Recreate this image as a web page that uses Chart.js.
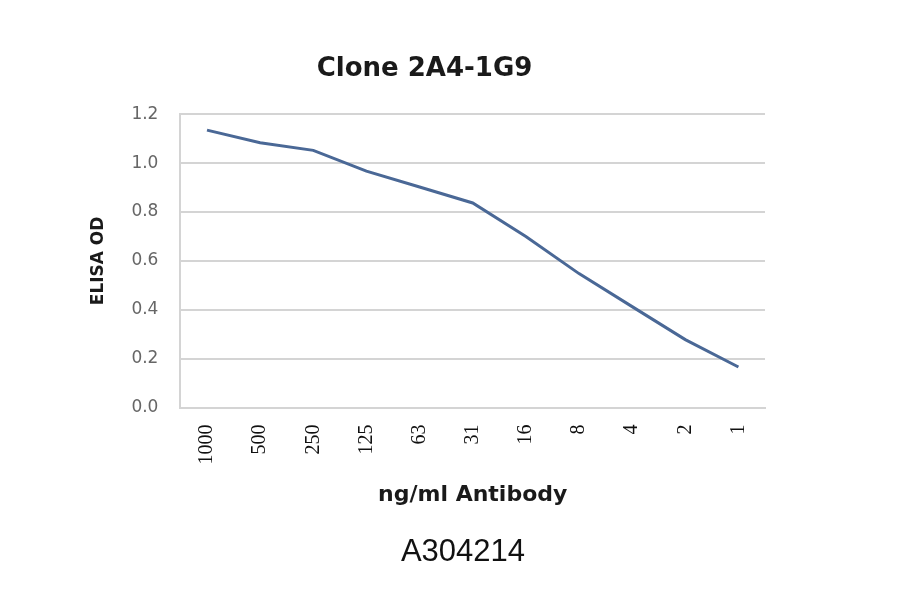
<!DOCTYPE html>
<html>
<head>
<meta charset="utf-8">
<script src="https://cdn.jsdelivr.net/npm/chart.js@4.4.1/dist/chart.umd.min.js"></script>
<style>
  html, body { margin: 0; padding: 0; background: #fff; }
  #wrap { position: relative; width: 900px; height: 594px; }
  #footer {
    position: absolute; left: 0; width: 926px; top: 533px;
    text-align: center; font-family: "Liberation Sans", sans-serif;
    font-size: 31px; color: #111;
  }
</style>
</head>
<body>
<div id="wrap">
  <canvas id="elisaChart" width="900" height="594"></canvas>
  <div id="footer">A304214</div>
</div>
<script>
// antibody dilution series (ng/ml) and measured OD
const concentrations = ['1000', '500', '250', '125', '63', '31', '16', '8', '4', '2', '1'];
const odValues = [1.135, 1.083, 1.052, 0.967, 0.902, 0.837, 0.7, 0.548, 0.413, 0.278, 0.166];
const yTicks = [0, 0.2, 0.4, 0.6, 0.8, 1.0, 1.2];

document.addEventListener("DOMContentLoaded", function () {
    const ctx = document.getElementById("elisaChart").getContext("2d");
    new Chart(ctx, {
        type: 'line',
        data: {
            labels: concentrations,
            datasets: [{
                label: 'Clone 2A4-1G9',
                data: odValues,
                borderColor: '#4a6896',
                borderWidth: 3,
                pointRadius: 0,
                tension: 0,
                fill: false
            }]
        },
        options: {
            responsive: false,
            animation: false,
            layout: { padding: { left: 84, right: 135, top: 54, bottom: 86 } },
            plugins: {
                legend: { display: false },
                tooltip: { enabled: false },
                title: {
                    display: true,
                    text: 'Clone 2A4-1G9',
                    color: '#1a1a1a',
                    font: { family: 'DejaVu Sans', size: 26, weight: 'bold' },
                    padding: { top: 0, bottom: 29 }
                }
            },
            scales: {
                x: {
                    offset: true,
                    grid: { display: false },
                    border: { color: '#d4d4d4', width: 2 },
                    ticks: {
                        color: '#111',
                        font: { family: 'Liberation Serif', size: 20 },
                        maxRotation: 90,
                        minRotation: 90,
                        padding: 9
                    },
                    title: {
                        display: true,
                        text: 'ng/ml Antibody',
                        color: '#1a1a1a',
                        font: { family: 'DejaVu Sans', size: 22, weight: 'bold' },
                        padding: { top: 8, bottom: 0 }
                    }
                },
                y: {
                    min: 0,
                    max: 1.2,
                    afterBuildTicks: function (axis) {
                        axis.ticks = yTicks.map(v => ({ value: v }));
                    },
                    grid: { color: '#d4d4d4', lineWidth: 2, drawTicks: false },
                    border: { color: '#d4d4d4', width: 2 },
                    ticks: {
                        color: '#666',
                        font: { family: 'DejaVu Sans', size: 17 },
                        padding: 22,
                        callback: v => v.toFixed(1)
                    },
                    title: {
                        display: true,
                        text: 'ELISA OD',
                        color: '#1a1a1a',
                        font: { family: 'DejaVu Sans', size: 17, weight: 'bold' },
                        padding: { top: 4, bottom: 1 }
                    }
                }
            }
        }
    });
});
</script>
</body>
</html>
